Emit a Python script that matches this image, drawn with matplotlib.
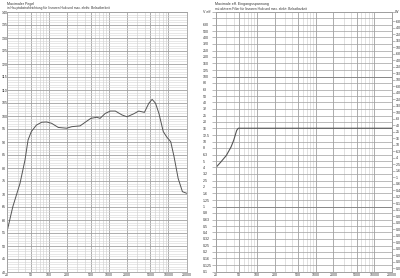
import numpy as np
import matplotlib
matplotlib.use('Agg')
import matplotlib.pyplot as plt

# Maximaler Pegel (dB) über Frequenz
freq_spl = [20, 25, 33, 40, 45, 51, 62, 76, 92, 111, 144, 199, 242, 333, 406, 504, 634,
            720, 878, 1066, 1294, 1672, 2026, 2600, 3180, 3960, 4690, 5330, 6070, 6920,
            8180, 9300, 10900, 12400, 14500, 17100, 20000]
spl = [55.5, 65.1, 74.1, 83.1, 90.8, 94.0, 96.5, 97.6, 97.7, 97.2, 95.6, 95.3, 95.9, 96.2,
       97.6, 99.1, 99.5, 99.1, 101.0, 101.9, 101.9, 100.4, 99.7, 100.8, 101.9, 101.4,
       104.9, 106.4, 104.9, 101.0, 94.0, 92.0, 90.1, 84.3, 76.0, 70.9, 70.3]

# Maximale Eingangsspannung (V eff)
freq_volt = [20, 24, 30, 36, 40, 45, 48, 20000]
volt = [4.0, 4.8, 6.1, 8.2, 10.4, 14.8, 16.0, 16.0]

x_ticks = [20, 50, 100, 200, 500, 1000, 2000, 5000, 10000, 20000]
x_labels = ['20', '50', '100', '200', '500', '1000', '2000', '5000', '10000', '20000']
spl_ticks = list(range(40, 141, 5))
spl_labels = [str(v) for v in spl_ticks]
volt_ticks = [0.1, 0.125, 0.16, 0.2, 0.25, 0.32, 0.4, 0.5, 0.63, 0.8,
              1, 1.25, 1.6, 2, 2.5, 3.2, 4, 5, 6.3, 8,
              10, 12.5, 16, 20, 25, 32, 40, 50, 63, 80,
              100, 125, 160, 200, 250, 320, 400, 500, 630, 800, 1000]
volt_labels = ['0.1', '0.125', '0.16', '0.2', '0.25', '0.32', '0.4', '0.5', '0.63', '0.8',
               '1', '1.25', '1.6', '2', '2.5', '3.2', '4', '5', '6.3', '8',
               '10', '12.5', '16', '20', '25', '32', '40', '50', '63', '80',
               '100', '125', '160', '200', '250', '320', '400', '500', '630', '', 'V eff']
# Leistung an 8 Ohm (rechte Achse)
watt_ticks = [0.0016, 0.0025, 0.004, 0.0063, 0.01, 0.016, 0.025, 0.04, 0.063,
              0.1, 0.16, 0.25, 0.4, 0.63, 1, 1.6, 2.5, 4, 6.3, 10, 16, 25, 40, 63,
              100, 160, 250, 400, 630, 1000, 1600, 2500, 4000, 6300,
              10000, 16000, 25000, 40000, 63000]
watt_labels = ['0.0016', '0.0025', '0.004', '0.0063', '0.01', '0.016', '0.025', '0.04', '0.063',
               '0.1', '0.16', '0.25', '0.4', '0.63', '1', '1.6', '2.5', '4', '6.3', '10', '16',
               '25', '40', '63', '100', '160', '250', '400', '630', '1000', '1600', '2500',
               '4000', '6300', '10000', '16000', '25000', '40000', '63000']
impedance = 8

plt.rcParams['font.family'] = ['Liberation Sans', 'DejaVu Sans']
W, H = 400, 278
fig = plt.figure(figsize=(W / 100, H / 100), dpi=100)

major_c = '#a0a0a0'
minor_c = '#d4d4d4'
curve_c = '#555555'
text_c = '#333333'
fs = 2.6


def setup_freq_axis(ax):
    ax.set_xscale('log')
    ax.set_xlim(20, 20000)
    ax.set_xticks(x_ticks)
    ax.set_xticklabels(x_labels, fontsize=fs, color=text_c)
    minors = [m * d for d in [10, 100, 1000] for m in range(1, 10)] + [10000]
    minors = [m for m in minors if 20 <= m <= 20000 and m not in x_ticks]
    ax.set_xticks(minors, minor=True)
    ax.tick_params(axis='x', which='both', length=0, pad=1)
    ax.grid(True, which='major', axis='x', color=major_c, lw=0.6)
    ax.grid(True, which='minor', axis='x', color=minor_c, lw=0.5)
    for s in ax.spines.values():
        s.set_color(major_c)
        s.set_linewidth(0.6)


# linkes Diagramm
ax1 = fig.add_axes([7 / W, 1 - 272 / H, 179.5 / W, 260 / H])
setup_freq_axis(ax1)
ax1.set_ylim(40, 140)
ax1.set_yticks(spl_ticks)
ax1.set_yticklabels(spl_labels, fontsize=fs, color=text_c)
ax1.set_yticks(np.arange(40, 141, 1), minor=True)
ax1.tick_params(axis='y', which='both', length=0, pad=3.6)
for lab in ax1.get_yticklabels():
    lab.set_horizontalalignment('left')
ax1.grid(True, which='major', axis='y', color=major_c, lw=0.6)
ax1.grid(True, which='minor', axis='y', color=minor_c, lw=0.4)
ax1.plot(freq_spl, spl, color=curve_c, lw=0.7)
fig.text(7 / W, 1 - 4 / H, 'Maximaler Pegel', fontsize=fs, va='center', color=text_c)
fig.text(7 / W, 1 - 8.5 / H, 'in Hauptabstrahlrichtung für linearen Hub und max. elektr. Belastbarkeit',
         fontsize=fs * 0.9, va='center', color=text_c)

# rechtes Diagramm
ax2 = fig.add_axes([216 / W, 1 - 271.5 / H, 176 / W, 260 / H])
setup_freq_axis(ax2)
ax2.set_yscale('log')
ax2.set_ylim(0.1, 1000)
ax2.set_yticks(volt_ticks)
ax2.set_yticklabels(volt_labels, fontsize=fs, color=text_c)
ax2.yaxis.set_minor_locator(matplotlib.ticker.NullLocator())
ax2.tick_params(axis='y', which='major', length=3, width=0.5, color=major_c, pad=6.4)
for lab in ax2.get_yticklabels():
    lab.set_horizontalalignment('left')
ax2.grid(True, which='major', axis='y', color=major_c, lw=0.5)
for d in [1, 100]:
    ax2.axhline(d, color='#808080', lw=0.6)
ax2.plot(freq_volt, volt, color=curve_c, lw=0.8)

ax3 = ax2.twinx()
ax3.set_yscale('log')
ax3.set_ylim(0.1, 1000)
ax3.set_yticks([np.sqrt(impedance * p) for p in watt_ticks] + [1000])
ax3.set_yticklabels(watt_labels + ['W'], fontsize=fs, color=text_c)
ax3.yaxis.set_minor_locator(matplotlib.ticker.NullLocator())
ax3.tick_params(axis='y', which='major', length=2, width=0.5, color=major_c, pad=0.5)
for s in ax3.spines.values():
    s.set_color(major_c)
    s.set_linewidth(0.6)

fig.text(215 / W, 1 - 4 / H, 'Maximale eff. Eingangsspannung', fontsize=fs, va='center', color=text_c)
fig.text(215 / W, 1 - 8.5 / H, 'mit aktivem Filter für linearen Hub und max. elektr. Belastbarkeit',
         fontsize=fs * 0.9, va='center', color=text_c)

fig.savefig('out.png', dpi=100)
